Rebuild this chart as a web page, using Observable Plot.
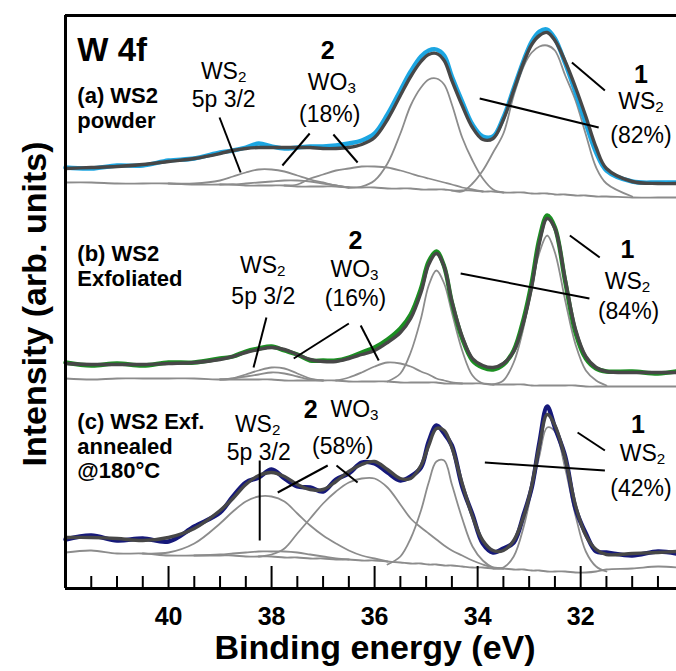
<!DOCTYPE html>
<html><head><meta charset="utf-8">
<script src="https://cdn.jsdelivr.net/npm/d3@7"></script>
<script src="https://cdn.jsdelivr.net/npm/@observablehq/plot@0.6"></script>
<style>html,body{margin:0;padding:0;background:#fff;}</style>
</head><body><div id="chart"></div>
<script>
// Binding energy grid (eV)
const energy = [42,41.5,41,40.5,40,39.5,39,38.75,38.5,38.25,38,37.75,37.5,37.25,37,36.75,36.5,36.25,36,35.75,35.5,35.3,35.1,34.95,34.8,34.65,34.5,34.3,34.1,33.9,33.7,33.5,33.3,33.1,32.95,32.8,32.65,32.5,32.3,32.1,31.9,31.7,31.5,31,30.5,30.14];

// component helper: places values starting at a given energy on the grid
function seg(from, vals) {
  const out = energy.map(() => null);
  const i0 = energy.indexOf(from);
  vals.forEach((v, k) => { out[i0 + k] = v; });
  return out;
}

// (a) WS2 powder (stacked, arb. units)
const dataA = [421,420,423,423,428,430,436,438,441,445,442,440,441,442,442,443,445,448,455,474,498,517,532,538,539,533,512,487,464,452,452,471,500,529,547,557,559,550,525,496,465,436,418,407,406,406];
const fitA  = [420,421,422,424,427,430,435,438,440,441,441,441,441,441,440,440,441,444,451,469,493,512,527,534,535,528,508,483,461,449,450,469,498,527,544,553,556,548,527,501,472,441,420,407,405,405];
const bgA   = [406,406,405,405,405,404,404,404,403,403,403,403,402,402,402,402,401,401,401,400,400,400,399,399,399,399,398,398,398,397,397,396,396,396,395,395,395,394,394,393,393,392,392,391,391,391];
const p5A   = seg(40,    [405,405,408,412,416,419,419,417,413,409,406,403,401]);
const wo3bA = seg(39,    [404,404,405,406,407,408,408,407,405,403,401]);
const wo3A  = seg(37.75, [403,404,410,414,418,420,422,422,421,418,415,412,410,408,406,404,401,399,397]);
const ws2dA = seg(36.5,  [401,402,408,425,455,483,501,509,510,504,484,451,428,410,399,396]);
const ws2sA = seg(34.5,  [398,397,405,418,436,455,493,523,536,542,543,538,513,488,454,421,405,392]);

// (b) WS2 exfoliated
const dataB = [226,223,225,223,226,226,230,232,237,240,242,238,234,228,228,228,231,236,241,249,260,274,300,327,337,322,286,250,228,221,219,224,238,271,306,350,373,361,307,256,230,220,217,217,215,217];
const fitB  = [225,224,224,224,225,226,229,232,236,239,241,239,234,229,227,227,230,234,238,246,256,270,296,324,335,322,287,252,230,223,221,225,237,268,302,346,370,360,309,259,232,221,217,216,216,216];
const bgB   = [210,209,210,210,210,210,209,209,209,209,209,208,208,208,208,208,207,207,207,207,206,206,206,206,206,205,205,205,205,205,204,204,204,204,203,203,203,203,203,203,202,202,202,202,202,202];
const p5B   = seg(39,    [209,210,214,218,221,220,215,210,208]);
const wo3bB = seg(39,    [209,210,212,214,216,215,212,209,208]);
const wo3B  = seg(36.75, [208,211,216,222,226,225,222,217,214,210,208,206,205]);
const ws2dB = seg(35.75, [207,215,236,270,303,318,305,276,238,213,205,204]);
const ws2sB = seg(33.7,  [204,208,226,263,303,336,353,336,288,244,218,208,203]);

// (c) WS2 exfoliated, annealed @180°C
const dataC = [49,53,48,50,47,62,76,92,106,111,119,110,102,101,97,109,115,126,125,116,108,112,121,147,163,155,143,102,74,45,36,40,46,75,101,146,182,161,132,80,55,37,36,33,37,35];
const fitC  = [51,51,50,48,51,60,78,90,104,113,116,112,104,99,99,107,117,124,127,119,110,110,123,143,160,158,141,105,72,48,38,38,48,73,103,143,174,163,130,83,53,39,34,35,36,37];
const bgC   = [36,38,35,35,33,33,33,33,32,32,32,31,31,30,30,29,29,28,28,27,26,25,25,24,24,23,23,22,21,21,20,20,19,19,18,18,17,17,17,16,16,17,19,20,22,21];
const p5C   = seg(40.5,  [35,36,45,65,77,87,92,92,87,75,63,53,45,38,33,30,27]);
const wo3bC = seg(39.5,  [33,34,35,36,37,37,37,36,34,32,30,29]);
const wo3C  = seg(38.25, [32,34,40,55,70,85,97,106,110,110,101,84,70,61,55,49,43,38,33,28,24,21,20]);
const ws2dC = seg(35.75, [24,32,50,78,106,127,128,104,70,42,28,21,20]);
const ws2sC = seg(33.7,  [20,21,32,63,98,133,161,157,120,73,37,22,17]);

// axis ticks
const majorTicks = [40,38,36,34,32];
const minorTicks = [41.5,41,40.5,39.5,39,38.5,37.5,37,36.5,35.5,35,34.5,33.5,33,32.5,31.5,31,30.5];
const xDomain = [42, 30.14];
const yMax = 573;

// annotation labels (data coordinates)
const labelText = ["W 4f","(a) WS2","powder","WS_2","5p 3/2","2","WO_3","(18%)","1","WS_2","(82%)",
  "(b) WS2","Exfoliated","WS_2","5p 3/2","2","WO_3","(16%)","1","WS_2","(84%)",
  "(c) WS2 Exf.","annealed","@180°C","WS_2","5p 3/2","2","WO_3","(58%)","1","WS_2","(42%)"];
const labelE = [41.77,41.77,41.77,38.93,38.93,36.91,36.83,36.87,30.83,30.83,30.83,
  41.77,41.77,38.17,38.16,36.37,36.39,36.37,31.09,31.09,31.07,
  41.77,41.77,41.77,38.27,38.25,37.24,36.39,36.62,30.89,30.80,30.83];
const labelV = [528,486,461,510,482,530,499,467,506,480,446,
  328,303,316,285,340,312,283,331,300,270,
  160,135,111,157,129,171,172,135,156,128,93];
const labelKind = ["title","sample","sample","species","species","num","species","species","num","species","species",
  "sample","sample","species","species","num","species","species","num","species","species",
  "sample","sample","sample","species","species","num","species","species","num","species","species"];

// leader lines
const leaderE1 = [39.01,37.26,36.80,32.17,33.96, 38.10,36.50,36.27,32.21,34.33, 38.23,36.91,36.74,32.06,33.86];
const leaderV1 = [471,455,454,526,490, 271,265,263,353,315, 128,123,123,156,126];
const leaderE2 = [38.60,37.79,36.33,31.53,31.65, 38.35,37.57,35.92,31.63,31.83, 38.23,37.88,36.33,31.53,31.53];
const leaderV2 = [416,423,426,498,461, 221,230,228,331,290, 48,96,106,138,118];

// ---- build tables ----
function rowsOf(arr, key) {
  const r = [];
  arr.forEach((v, i) => { if (v != null) r.push({E: energy[i], v, key}); });
  return r;
}
const grayRows = [
  ["bgA",bgA],["p5A",p5A],["wo3bA",wo3bA],["wo3A",wo3A],["ws2dA",ws2dA],["ws2sA",ws2sA],
  ["bgB",bgB],["p5B",p5B],["wo3bB",wo3bB],["wo3B",wo3B],["ws2dB",ws2dB],["ws2sB",ws2sB],
  ["bgC",bgC],["p5C",p5C],["wo3bC",wo3bC],["wo3C",wo3C],["ws2dC",ws2dC],["ws2sC",ws2sC]
].flatMap(([k, a]) => rowsOf(a, k));
const fitRows = [["fitA",fitA],["fitB",fitB],["fitC",fitC]].flatMap(([k, a]) => rowsOf(a, k));
const labels = labelText.map((t, i) => ({t, E: labelE[i], v: labelV[i], kind: labelKind[i]}));
const leaders = leaderE1.map((e, i) => ({E1: e, V1: leaderV1[i], E2: leaderE2[i], V2: leaderV2[i]}));

const font = '"Liberation Sans", Arial, Helvetica, sans-serif';
const curve = "catmull-rom";

const chart = Plot.plot({
  width: 676, height: 671,
  marginLeft: 65, marginRight: 0, marginTop: 15, marginBottom: 83,
  x: {domain: xDomain, axis: null},
  y: {domain: [0, yMax], axis: null},
  style: {fontFamily: font, background: "#fff", color: "#000"},
  marks: [
    Plot.line(grayRows, {x: "E", y: "v", z: "key", stroke: "#8c8c8c", strokeWidth: 1.8, curve}),
    Plot.line(rowsOf(dataA, "dA"), {x: "E", y: "v", stroke: "#1ca6e2", strokeWidth: 4.4, curve}),
    Plot.line(rowsOf(dataB, "dB"), {x: "E", y: "v", stroke: "#1b8f22", strokeWidth: 4.4, curve}),
    Plot.line(rowsOf(dataC, "dC"), {x: "E", y: "v", stroke: "#16197a", strokeWidth: 4.4, curve}),
    Plot.line(fitRows, {x: "E", y: "v", z: "key", stroke: "#474747", strokeWidth: 3.4, curve}),
    Plot.link(leaders, {x1: "E1", y1: "V1", x2: "E2", y2: "V2", stroke: "#000", strokeWidth: 2}),
    Plot.text(labels.filter(d => d.kind === "title"), {x: "E", y: "v", text: "t", textAnchor: "start", lineAnchor: "bottom", fontSize: 33, fontWeight: "bold"}),
    Plot.text(labels.filter(d => d.kind === "sample"), {x: "E", y: "v", text: "t", textAnchor: "start", lineAnchor: "bottom", fontSize: 22, fontWeight: "bold"}),
    Plot.text(labels.filter(d => d.kind === "species"), {x: "E", y: "v", text: "t", textAnchor: "middle", lineAnchor: "bottom", fontSize: 23}),
    Plot.text(labels.filter(d => d.kind === "num"), {x: "E", y: "v", text: "t", textAnchor: "middle", lineAnchor: "bottom", fontSize: 25, fontWeight: "bold"}),
    // ticks (inward)
    Plot.ruleX(majorTicks, {x: d => d, y1: 0, y2: 22, stroke: "#000", strokeWidth: 2}),
    Plot.ruleX(minorTicks, {x: d => d, y1: 0, y2: 12, stroke: "#000", strokeWidth: 2}),
    Plot.text(majorTicks, {x: d => d, y: 0, dy: 19, text: d => String(d), textAnchor: "middle", lineAnchor: "top", fontSize: 25, fontWeight: "bold"}),
    // frame (right side cropped)
    Plot.ruleY([0], {stroke: "#000", strokeWidth: 3}),
    Plot.ruleY([yMax], {stroke: "#000", strokeWidth: 3}),
    Plot.ruleX([xDomain[0]], {stroke: "#000", strokeWidth: 3}),
    // axis titles
    Plot.text(["Binding energy (eV)"], {frameAnchor: "bottom", text: d => d, dx: 4, dy: 70, textAnchor: "middle", lineAnchor: "bottom", fontSize: 34, fontWeight: "bold"}),
    Plot.text(["Intensity (arb. units)"], {frameAnchor: "left", text: d => d, dx: -20, dy: 2, rotate: -90, textAnchor: "middle", lineAnchor: "bottom", fontSize: 34, fontWeight: "bold"})
  ]
});

// subscripts: "WS_2" -> WS<sub>2</sub>
d3.select(chart).selectAll("text").each(function () {
  const t = this.textContent;
  const m = t.match(/^(.*)_(\d)$/);
  if (m) {
    this.textContent = m[1];
    d3.select(this).append("tspan").attr("dy", "0.22em").attr("font-size", "0.66em").text(m[2]);
  }
});

document.getElementById("chart").appendChild(chart);
</script></body></html>
